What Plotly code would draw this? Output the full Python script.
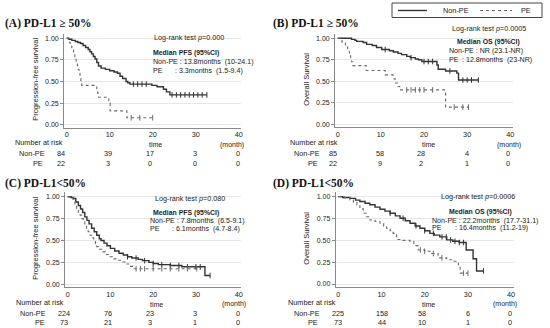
import plotly.graph_objects as go
import numpy as np

W, H = 550, 328

# ---------------- data ----------------
# Panel A: PFS, PD-L1 >= 50%
a_np_t = [0, 0.5, 1.2, 2.0, 2.6, 3.2, 3.8, 4.4, 5.0, 5.4, 5.8, 6.2, 6.6, 7.0, 7.4, 8.0, 9.0, 10.0, 11.0, 11.8, 12.4, 13.0, 13.8, 14.2, 14.7, 19.8, 21.0, 22.5, 23.2, 24.0, 32.6]
a_np_s = [1.0, 0.99, 0.976, 0.964, 0.952, 0.94, 0.917, 0.893, 0.87, 0.845, 0.82, 0.79, 0.76, 0.72, 0.68, 0.655, 0.64, 0.625, 0.61, 0.595, 0.56, 0.535, 0.5, 0.485, 0.47, 0.455, 0.44, 0.41, 0.38, 0.345, 0.345]
a_pe_t = [0, 0.4, 0.8, 1.2, 1.6, 1.9, 2.2, 2.5, 2.7, 2.9, 3.1, 3.3, 3.5, 7.0, 7.2, 7.4, 9.8, 10.1, 14.0, 20.0]
a_pe_s = [1.0, 0.955, 0.909, 0.864, 0.818, 0.773, 0.727, 0.682, 0.636, 0.591, 0.545, 0.5, 0.455, 0.41, 0.364, 0.318, 0.25, 0.16, 0.08, 0.08]
a_np_c = [15.5, 16.5, 17.5, 18.5, 24.5, 25.5, 26.5, 27.5, 28.5, 29.5, 30.5, 31.5, 32.6]
a_pe_c = [15.0, 17.0, 20.0]

# Panel B: OS, PD-L1 >= 50%
b_np_t = [0, 3.2, 4.0, 4.4, 5.9, 6.7, 8.0, 9.0, 10.2, 12.0, 12.9, 14.0, 14.8, 16.0, 16.8, 18.0, 18.7, 19.5, 23.0, 23.3, 25.0, 27.6, 28.0, 32.6]
b_np_s = [1.0, 0.988, 0.976, 0.964, 0.952, 0.929, 0.917, 0.893, 0.87, 0.855, 0.84, 0.825, 0.81, 0.79, 0.775, 0.76, 0.75, 0.73, 0.69, 0.64, 0.62, 0.595, 0.515, 0.515]
b_pe_t = [0, 1.0, 1.8, 2.3, 2.7, 3.0, 3.2, 3.5, 6.6, 11.0, 12.8, 13.3, 14.0, 14.4, 25.0, 30.3]
b_pe_s = [1.0, 0.955, 0.909, 0.864, 0.818, 0.773, 0.727, 0.682, 0.625, 0.575, 0.53, 0.48, 0.44, 0.40, 0.20, 0.20]
b_np_c = [11.0, 17.0, 20.0, 21.0, 22.0, 26.0, 29.0, 30.0, 31.0, 32.6]
b_pe_c = [16.0, 17.0, 18.0, 19.0, 20.0, 22.0, 27.0, 29.0, 30.3]

# Panel C: PFS, PD-L1 < 50%
c_np_t = [0, 0.8, 1.3, 1.9, 2.5, 3.0, 3.5, 4.0, 4.5, 5.0, 5.6, 6.2, 6.8, 7.4, 7.8, 8.5, 9.2, 10.0, 11.0, 12.0, 13.0, 14.0, 15.0, 16.5, 17.5, 19.0, 20.0, 21.2, 24.0, 26.7, 32.1, 33.3]
c_np_s = [1.0, 0.99, 0.98, 0.94, 0.90, 0.86, 0.82, 0.77, 0.73, 0.69, 0.64, 0.60, 0.56, 0.52, 0.50, 0.47, 0.44, 0.41, 0.38, 0.355, 0.335, 0.315, 0.30, 0.285, 0.27, 0.25, 0.238, 0.225, 0.215, 0.20, 0.10, 0.10]
c_pe_t = [0, 0.8, 1.3, 1.7, 2.1, 2.5, 2.9, 3.3, 3.65, 4.0, 4.4, 4.8, 5.2, 5.6, 6.1, 6.5, 6.8, 7.4, 8.0, 8.8, 9.5, 10.5, 11.5, 12.5, 13.4, 14.5, 15.5, 30.2]
c_pe_s = [1.0, 0.986, 0.945, 0.904, 0.863, 0.822, 0.79, 0.75, 0.715, 0.68, 0.64, 0.60, 0.56, 0.53, 0.50, 0.465, 0.43, 0.40, 0.37, 0.34, 0.315, 0.29, 0.275, 0.255, 0.232, 0.205, 0.178, 0.178]
c_np_c = [14.0, 16.0, 18.0, 20.0, 22.0, 24.0, 26.0, 28.0, 30.0, 31.0, 33.3]
c_pe_c = [16.0, 17.0, 18.0, 20.0, 22.0, 24.0, 26.0, 28.0, 30.2]

# Panel D: OS, PD-L1 < 50%
d_np_t = [0, 1.0, 2.7, 4.0, 5.0, 6.2, 7.3, 8.5, 9.65, 10.8, 12.0, 13.2, 14.3, 15.5, 16.6, 17.8, 18.9, 20.0, 21.2, 22.2, 23.5, 25.1, 26.5, 28.0, 29.6, 31.2, 32.0, 33.6]
d_np_s = [1.0, 0.99, 0.98, 0.96, 0.945, 0.925, 0.907, 0.88, 0.856, 0.835, 0.81, 0.78, 0.753, 0.725, 0.695, 0.665, 0.638, 0.61, 0.58, 0.56, 0.54, 0.505, 0.49, 0.475, 0.39, 0.29, 0.15, 0.15]
d_pe_t = [0, 1.5, 2.7, 3.5, 4.3, 5.0, 5.8, 6.5, 7.3, 8.5, 9.65, 10.5, 11.2, 12.0, 12.7, 13.5, 15.0, 16.6, 17.5, 18.5, 20.0, 21.6, 23.1, 25.1, 26.5, 27.8, 28.2, 30.0]
d_pe_s = [1.0, 0.986, 0.962, 0.935, 0.905, 0.86, 0.81, 0.77, 0.733, 0.715, 0.695, 0.665, 0.638, 0.61, 0.58, 0.51, 0.50, 0.485, 0.44, 0.39, 0.375, 0.35, 0.30, 0.278, 0.26, 0.22, 0.125, 0.125]
d_np_c = [12.0, 15.0, 18.0, 20.0, 22.0, 24.0, 25.0, 26.0, 27.0, 28.0, 29.0, 33.6]
d_pe_c = [19.0, 20.0, 22.0, 24.0, 29.0, 30.0]

# numbers at risk
a_risk_np = [84, 39, 17, 3, 0]
a_risk_pe = [22, 3, 0, 0, 0]
b_risk_np = [85, 58, 28, 4, 0]
b_risk_pe = [22, 9, 2, 1, 0]
c_risk_np = [224, 76, 23, 3, 0]
c_risk_pe = [73, 21, 3, 1, 0]
d_risk_np = [225, 158, 58, 6, 0]
d_risk_pe = [73, 44, 10, 1, 0]

x_ticks = [0, 10, 20, 30, 40]
y_ticks = [0.0, 0.25, 0.5, 0.75, 1.0]
y_tick_labels = ["0.00", "0.25", "0.50", "0.75", "1.00"]

titles = ["(A) PD-L1 ≥ 50%", "(B) PD-L1 ≥ 50%", "(C) PD-L1<50%", "(D) PD-L1<50%"]
ylabels = ["Progression-free survival", "Overall Survival", "Progression-free survival", "Overall Survival"]
logrank = ["Log-rank test <i>p</i>=0.000", "Log-rank test <i>p</i>=0.0005", "Log-rank test <i>p</i>=0.080", "Log-rank test <i>p</i>=0.0006"]
median_head = ["Median PFS (95%CI)", "Median OS (95%CI)", "Median PFS (95%CI)", "Median OS (95%CI)"]
median_np = ["Non-PE : 13.8months  (10-24.1)", "Non-PE : NR (23.1-NR)", "Non-PE : 7.8months  (6.5-9.1)", "Non-PE : 22.2months  (17.7-31.1)"]
median_pe = [": 3.3months  (1.5-9.4)", ": 12.8months  (23-NR)", ": 6.1months  (4.7-8.4)", ": 16.4months  (11.2-19)"]

# ---------------- layout helpers ----------------
def fx(x):
    return x / W

def fy(y):
    return 1 - y / H

FONT = "Liberation Sans, Arial, sans-serif"
TXT = "#222222"
NP_COL = "#333333"
PE_COL = "#6a6a6a"

panels = [
    dict(xd=(64.1, 241.3), yd=(34.0, 127.7), data=(a_np_t, a_np_s, a_pe_t, a_pe_s, a_np_c, a_pe_c),
         risk=(a_risk_np, a_risk_pe), risk_x=[61, 108, 150, 195, 238], rows=(142.5, 153.3, 163.3),
         title=(3, 24), ylab=36, nar=(39,), time_x=155, month_x=232, lab_r=(47, 45),
         lr=(189, 37.5), mh=(186, 53.5), mt=(151, 62.3, 70.7, 173)),
    dict(xd=(335.1, 512.9), yd=(34.0, 127.3), data=(b_np_t, b_np_s, b_pe_t, b_pe_s, b_np_c, b_pe_c),
         risk=(b_risk_np, b_risk_pe), risk_x=[333, 380, 421, 467, 508], rows=(142.5, 153.3, 163.3),
         title=(271, 24), ylab=307, nar=(314,), time_x=428.5, month_x=509, lab_r=(322, 320),
         lr=(489, 28.3), mh=(488, 42.3), mt=(446.7, 51.0, 59.7, 460)),
    dict(xd=(65.1, 241.3), yd=(192.3, 287.4), data=(c_np_t, c_np_s, c_pe_t, c_pe_s, c_np_c, c_pe_c),
         risk=(c_risk_np, c_risk_pe), risk_x=[64, 108, 150, 195, 238], rows=(302.3, 313.3, 322.7),
         title=(3, 183.3), ylab=36, nar=(40,), time_x=156, month_x=234, lab_r=(48, 47),
         lr=(189.5, 198.3), mh=(185.5, 212.7), mt=(147.7, 220.7, 229.3, 170)),
    dict(xd=(335.7, 513.7), yd=(192.3, 287.1), data=(d_np_t, d_np_s, d_pe_t, d_pe_s, d_np_c, d_pe_c),
         risk=(d_risk_np, d_risk_pe), risk_x=[338, 382, 422, 468, 510], rows=(302.3, 313.3, 322.7),
         title=(271, 183.3), ylab=307, nar=(312,), time_x=428, month_x=505, lab_r=(322, 320),
         lr=(477.5, 196.7), mh=(480, 211.7), mt=(430, 220.7, 228.3, 453.3)),
]

fig = go.Figure()
annotations = []
shapes = []
layout_axes = {}

def step_value(t_arr, s_arr, t):
    i = np.searchsorted(np.asarray(t_arr), t, side="right") - 1
    return float(np.asarray(s_arr)[max(i, 0)])

for k, p in enumerate(panels):
    n = k + 1
    xname = "x" if n == 1 else f"x{n}"
    yname = "y" if n == 1 else f"y{n}"
    np_t, np_s, pe_t, pe_s, np_c, pe_c = p["data"]

    for tt, ss, col, dash, wd in [(np_t, np_s, NP_COL, "solid", 1.4), (pe_t, pe_s, PE_COL, "dot", 1.1)]:
        fig.add_trace(go.Scatter(x=tt, y=ss, mode="lines", line=dict(shape="hv", color=col, dash=dash, width=wd),
                                 xaxis=xname, yaxis=yname, showlegend=False, hoverinfo="skip"))
    for cc, tt, ss, col in [(np_c, np_t, np_s, NP_COL), (pe_c, pe_t, pe_s, PE_COL)]:
        fig.add_trace(go.Scatter(x=cc, y=[step_value(tt, ss, c) for c in cc], mode="markers",
                                 marker=dict(symbol="line-ns-open", size=4, color=col, line=dict(color=col, width=1)),
                                 xaxis=xname, yaxis=yname, showlegend=False, hoverinfo="skip"))

    xa = dict(domain=[fx(p["xd"][0]), fx(p["xd"][1])], range=[-0.6, 40.6], tickvals=x_ticks,
              ticks="", showline=True, linecolor="#8a8a8a", linewidth=1, showgrid=False, zeroline=False,
              tickfont=dict(family=FONT, size=7.3, color=TXT), anchor=yname, fixedrange=True)
    ya = dict(domain=[fy(p["yd"][1]), fy(p["yd"][0])], range=[-0.035, 1.05], tickvals=y_ticks,
              ticktext=y_tick_labels, ticks="outside", ticklen=3, tickcolor="#888", tickwidth=1,
              showline=True, linecolor="#8a8a8a", linewidth=1, showgrid=True, gridcolor="#e6e6e6",
              gridwidth=1, zeroline=False, tickfont=dict(family=FONT, size=7, color=TXT),
              anchor=xname, fixedrange=True)
    layout_axes["xaxis" if n == 1 else f"xaxis{n}"] = xa
    layout_axes["yaxis" if n == 1 else f"yaxis{n}"] = ya

    def ann(text, x, y, size=7, xanchor="center", bold=False, angle=0, family=FONT, color=TXT):
        if bold:
            text = f"<b>{text}</b>"
        annotations.append(dict(text=text, x=fx(x), y=fy(y), xref="paper", yref="paper",
                                xanchor=xanchor, yanchor="middle", showarrow=False, textangle=angle,
                                font=dict(family=family, size=size, color=color)))

    ann(titles[k], p["title"][0], p["title"][1], size=11.5, xanchor="left", bold=True,
        family="Liberation Serif, DejaVu Serif, serif", color="#111")
    ann(ylabels[k], p["ylab"], (p["yd"][0] + p["yd"][1]) / 2 - 1, size=7.5, angle=-90)
    ann(logrank[k], p["lr"][0], p["lr"][1], size=7.2)
    ann(median_head[k], p["mh"][0], p["mh"][1], size=6.9, bold=True)
    ann(median_np[k], p["mt"][0], p["mt"][1], size=7.1, xanchor="left")
    ann("PE", p["mt"][0], p["mt"][2], size=7.1, xanchor="left")
    ann(median_pe[k], p["mt"][3], p["mt"][2], size=7.1, xanchor="left")

    r0, r1, r2 = p["rows"]
    ann("Number at risk", p["nar"][0], r0, size=7.3)
    ann("time", p["time_x"], r0 + 2, size=7)
    ann("(month)", p["month_x"], r0 + 2, size=7)
    ann("Non-PE", p["lab_r"][0], r1, size=7.3, xanchor="right")
    ann("PE", p["lab_r"][1], r2, size=7.3, xanchor="right")
    for v, xx in zip(p["risk"][0], p["risk_x"]):
        ann(str(v), xx, r1, size=7.3)
    for v, xx in zip(p["risk"][1], p["risk_x"]):
        ann(str(v), xx, r2, size=7.3)

# legend box (top right)
shapes.append(dict(type="rect", xref="paper", yref="paper", x0=fx(392), x1=fx(542), y0=fy(17.5), y1=fy(3),
                   line=dict(color="#444", width=1), fillcolor="white"))
shapes.append(dict(type="line", xref="paper", yref="paper", x0=fx(398), x1=fx(427), y0=fy(10.5), y1=fy(10.5),
                   line=dict(color=NP_COL, width=1.4)))
shapes.append(dict(type="line", xref="paper", yref="paper", x0=fx(480), x1=fx(512), y0=fy(10.5), y1=fy(10.5),
                   line=dict(color=PE_COL, width=1.1, dash="dot")))
annotations.append(dict(text="Non-PE", x=fx(456), y=fy(10.5), xref="paper", yref="paper", showarrow=False,
                        xanchor="center", yanchor="middle", font=dict(family=FONT, size=7.3, color=TXT)))
annotations.append(dict(text="PE", x=fx(526), y=fy(10.5), xref="paper", yref="paper", showarrow=False,
                        xanchor="center", yanchor="middle", font=dict(family=FONT, size=7.3, color=TXT)))

fig.update_layout(width=W, height=H, margin=dict(l=0, r=0, t=0, b=0), paper_bgcolor="white",
                  plot_bgcolor="white", showlegend=False, annotations=annotations, shapes=shapes,
                  **layout_axes)

fig.write_html("out.html", config={"displayModeBar": False},
               post_script="document.body.style.margin='0';document.body.style.overflow='hidden';")
